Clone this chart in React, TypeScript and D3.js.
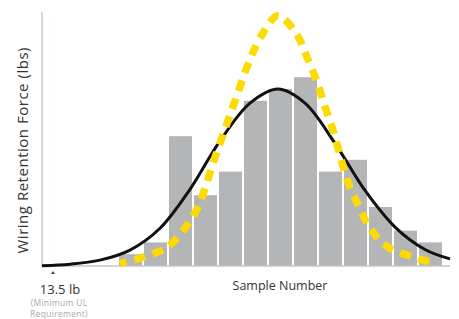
import * as d3 from 'd3';

// histogram counts per sample bin
const binCounts = [1, 2, 11, 6, 8, 14, 15, 16, 8, 9, 5, 3, 2];

// measured distribution curve (bin position, count)
const fitX = [-3.04, -1.92, -0.72, 0.48, 1.68, 2.88, 4.08, 5.28, 6.4, 7.48, 8.68, 9.88, 11.08, 12.28, 13.28];
const fitY = [0.03, 0.15, 0.5, 1.35, 3.2, 6.5, 10.6, 13.8, 15.0, 13.8, 10.4, 6.4, 3.3, 1.4, 0.6];

// target distribution curve (dashed yellow)
const targetX = [0.08, 1.08, 1.96, 2.68, 3.2, 3.88, 4.6, 5.28, 5.76, 6.4, 7.16, 7.56, 7.96, 8.28, 8.6, 9.2, 9.6, 10.08, 10.8, 11.76, 12.72];
const targetY = [0.2, 0.8, 1.6, 3.2, 5.0, 9.2, 13.5, 17.5, 19.6, 21.2, 19.6, 17.7, 15.6, 13.5, 11.5, 7.1, 5.2, 3.2, 1.6, 0.8, 0.2];

const axisStart = -3.04;
const axisEnd = 13.28;
const minSpec = -2.6; // 13.5 lb position
const minLabel = '13.5 lb';
const minNote = ['(Minimum UL', 'Requirement)'];
const yTitle = 'Wiring Retention Force (lbs)';
const xTitle = 'Sample Number';

const W = 459;
const H = 319;

export default function App() {
  const x = d3.scaleLinear().domain([0, binCounts.length]).range([118, 443]);
  const y = d3.scaleLinear().domain([0, 21.5]).range([266, 12.3]);
  const base = y(0);

  const line = d3
    .line<[number, number]>()
    .x(d => x(d[0]))
    .y(d => y(d[1]))
    .curve(d3.curveCatmullRom.alpha(0.5));

  const fitPath = line(fitX.map((v, i) => [v, fitY[i]] as [number, number])) || '';
  const targetPath = line(targetX.map((v, i) => [v, targetY[i]] as [number, number])) || '';

  const font = "'Open Sans', 'Liberation Sans', sans-serif";
  const mx = x(minSpec);

  return (
    <svg
      width={W}
      height={H}
      style={{ position: 'absolute', left: 0, top: 0, background: '#fff' }}
      fontFamily={font}
    >
      {/* y axis */}
      <line x1={x(axisStart)} x2={x(axisStart)} y1={y(21.5)} y2={base} stroke="#d4d4d4" strokeWidth={2} />
      <line x1={mx} x2={mx} y1={y(21.5)} y2={base} stroke="#f0f0f0" strokeWidth={1} strokeDasharray="1 3" />

      {/* bars */}
      {binCounts.map((c, i) => (
        <rect
          key={i}
          x={x(i) + 1}
          y={y(c)}
          width={x(i + 1) - x(i) - 2}
          height={base - y(c)}
          fill="#b4b5b6"
        />
      ))}

      {/* baseline */}
      <line x1={x(axisStart)} x2={x(axisEnd)} y1={base} y2={base} stroke="#c4c4c4" strokeWidth={1.5} />

      {/* curves */}
      <path d={fitPath} fill="none" stroke="#111" strokeWidth={3} />
      <path
        d={targetPath}
        fill="none"
        stroke="#fcdc00"
        strokeWidth={7.5}
        strokeDasharray="11 8"
        strokeDashoffset={4}
      />

      {/* min spec marker */}
      <path d={`M${mx - 2},${base + 8} L${mx + 2},${base + 8} L${mx},${base + 5} Z`} fill="#444" />
      <text x={mx + 7} y={294} textAnchor="middle" fontSize={13} fill="#333">
        {minLabel}
      </text>
      {minNote.map((t, i) => (
        <text key={t} x={mx + 6} y={306 + i * 11} textAnchor="middle" fontSize={8.5} fill="#aaa" letterSpacing={0.3}>
          {t}
        </text>
      ))}

      {/* titles */}
      <text
        transform={`translate(28,150.5) rotate(-90)`}
        textAnchor="middle"
        fontSize={15}
        textLength={206}
        lengthAdjust="spacing"
        fill="#333"
      >
        {yTitle}
      </text>
      <text x={280} y={290} textAnchor="middle" fontSize={12.5} fill="#333">
        {xTitle}
      </text>
    </svg>
  );
}
